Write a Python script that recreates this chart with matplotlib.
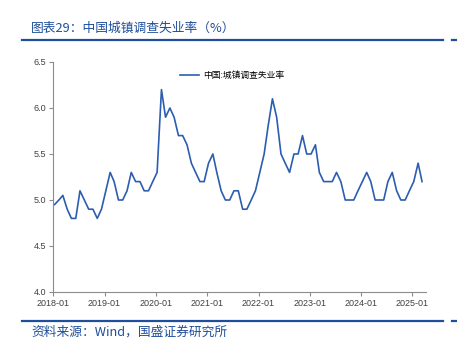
import matplotlib.pyplot as plt
import matplotlib.dates as mdates
import pandas as pd
from matplotlib.lines import Line2D

plt.rcParams['font.family'] = ['Liberation Sans', 'Noto Sans CJK SC', 'DejaVu Sans']

# 中国城镇调查失业率 (%), monthly from 2018-01
rate = [4.95, 5.0, 5.05, 4.9, 4.8, 4.8, 5.1, 5.0, 4.9, 4.9, 4.8, 4.9,
        5.1, 5.3, 5.2, 5.0, 5.0, 5.1, 5.3, 5.2, 5.2, 5.1, 5.1, 5.2,
        5.3, 6.2, 5.9, 6.0, 5.9, 5.7, 5.7, 5.6, 5.4, 5.3, 5.2, 5.2,
        5.4, 5.5, 5.3, 5.1, 5.0, 5.0, 5.1, 5.1, 4.9, 4.9, 5.0, 5.1,
        5.3, 5.5, 5.8, 6.1, 5.9, 5.5, 5.4, 5.3, 5.5, 5.5, 5.7, 5.5,
        5.5, 5.6, 5.3, 5.2, 5.2, 5.2, 5.3, 5.2, 5.0, 5.0, 5.0, 5.1,
        5.2, 5.3, 5.2, 5.0, 5.0, 5.0, 5.2, 5.3, 5.1, 5.0, 5.0, 5.1,
        5.2, 5.4, 5.2]
dates = pd.date_range('2018-01-01', periods=len(rate), freq='MS') + pd.Timedelta(days=9)
year_ticks = pd.date_range('2018-01-01', '2025-01-01', freq='YS')

line_color = '#2C5DB0'
rule_color = '#1F4E9A'
text_color = '#404040'

fig = plt.figure(figsize=(4.57, 3.41), dpi=100)
ax = fig.add_axes([0.1166, 0.1437, 0.8149, 0.6745])
ax.plot(dates, rate, color=line_color, lw=1.2, label='中国:城镇调查失业率')

ax.set_ylim(4.0, 6.5)
ax.set_yticks([4.0, 4.5, 5.0, 5.5, 6.0, 6.5])
ax.yaxis.set_major_formatter(plt.FormatStrFormatter('%.1f'))
ax.set_xlim(pd.Timestamp('2018-01-01'), pd.Timestamp('2025-04-05'))
ax.set_xticks(year_ticks)
ax.xaxis.set_major_formatter(mdates.DateFormatter('%Y-%m'))

for s in ['top', 'right']:
    ax.spines[s].set_visible(False)
for s in ['left', 'bottom']:
    ax.spines[s].set_color('#8c8c8c')
    ax.spines[s].set_linewidth(0.8)
ax.tick_params(axis='both', colors='#8c8c8c', labelcolor=text_color,
               labelsize=6.5, length=3, width=0.8, pad=2)

ax.legend(loc='upper center', bbox_to_anchor=(0.48, 0.995), frameon=False,
          handlelength=2.2, handletextpad=0.4,
          prop={'family': ['Noto Sans CJK SC'], 'size': 6.3})

# title and source with rules
fig.text(0.068, 0.918, '图表29：中国城镇调查失业率（%）', fontsize=9.2,
         color=rule_color, va='center', ha='left', style='italic',
         family=['Noto Sans CJK SC', 'DejaVu Sans'])
fig.text(0.068, 0.025, '资料来源：Wind，国盛证券研究所', fontsize=9.2,
         color=rule_color, va='center', ha='left', style='italic',
         family=['Noto Sans CJK SC', 'DejaVu Sans'])
for y in [0.883, 0.059]:
    fig.add_artist(Line2D([0.048, 0.970], [y, y], color=rule_color, lw=1.6))
    fig.add_artist(Line2D([0.989, 1.0], [y, y], color=rule_color, lw=1.6))

fig.savefig('out.png', dpi=100)
